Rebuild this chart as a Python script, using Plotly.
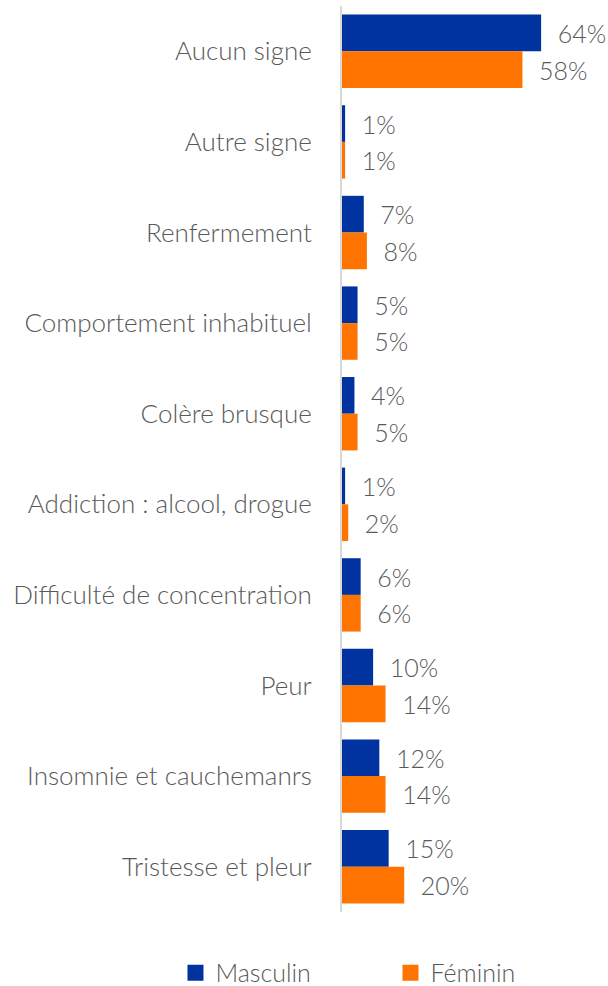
import plotly.graph_objects as go

# Signes observés, par sexe (%)
categories = [
    "Aucun signe",
    "Autre signe",
    "Renfermement",
    "Comportement inhabituel",
    "Colère brusque",
    "Addiction : alcool, drogue",
    "Difficulté de concentration",
    "Peur",
    "Insomnie et cauchemanrs",
    "Tristesse et pleur",
]
masculin = [64, 1, 7, 5, 4, 1, 6, 10, 12, 15]
feminin = [58, 1, 8, 5, 5, 2, 6, 14, 14, 20]

BLUE = "#0033A0"
ORANGE = "#FF7300"
TEXT = "#595959"
FONT = "Lato"

fig = go.Figure()
for name, vals, color in [("Masculin", masculin, BLUE), ("Féminin", feminin, ORANGE)]:
    fig.add_trace(go.Bar(
        y=categories, x=vals, orientation="h", name=name,
        marker=dict(color=color, line=dict(width=0)),
        text=[f"{v}%" for v in vals],
        texttemplate="\u00a0\u00a0%{text}",
        textposition="outside", cliponaxis=False,
        textfont=dict(family=FONT, size=25, color=TEXT, weight=300),
        showlegend=False,
    ))
    # legend entry with a larger square swatch
    fig.add_trace(go.Scatter(
        x=[None], y=[None], mode="markers", name=name,
        marker=dict(symbol="square", size=16, color=color),
        showlegend=True,
    ))

fig.update_layout(
    width=608, height=986,
    margin=dict(l=342, r=0, t=6, b=74, autoexpand=False),
    paper_bgcolor="white", plot_bgcolor="white",
    barmode="group", bargap=0.19, bargroupgap=0,
    font=dict(family=FONT, size=25, color=TEXT, weight=300),
    legend=dict(
        orientation="h",
        x=-0.626, y=-0.0673, xanchor="left", yanchor="middle",
        entrywidth=170, entrywidthmode="pixels",
        font=dict(family=FONT, size=25, color=TEXT, weight=300),
        bgcolor="rgba(0,0,0,0)", itemwidth=30,
    ),
)
fig.update_xaxes(range=[0, 85.5], visible=False, showgrid=False, zeroline=False)
fig.update_yaxes(
    categoryorder="array", categoryarray=categories, autorange="reversed",
    showline=True, linecolor="#D9D9D9", linewidth=2,
    showgrid=False, zeroline=False, ticks="", ticklabelstandoff=23,
    tickfont=dict(family=FONT, size=26, color=TEXT, weight=300),
)

fig.write_html("out.html")
